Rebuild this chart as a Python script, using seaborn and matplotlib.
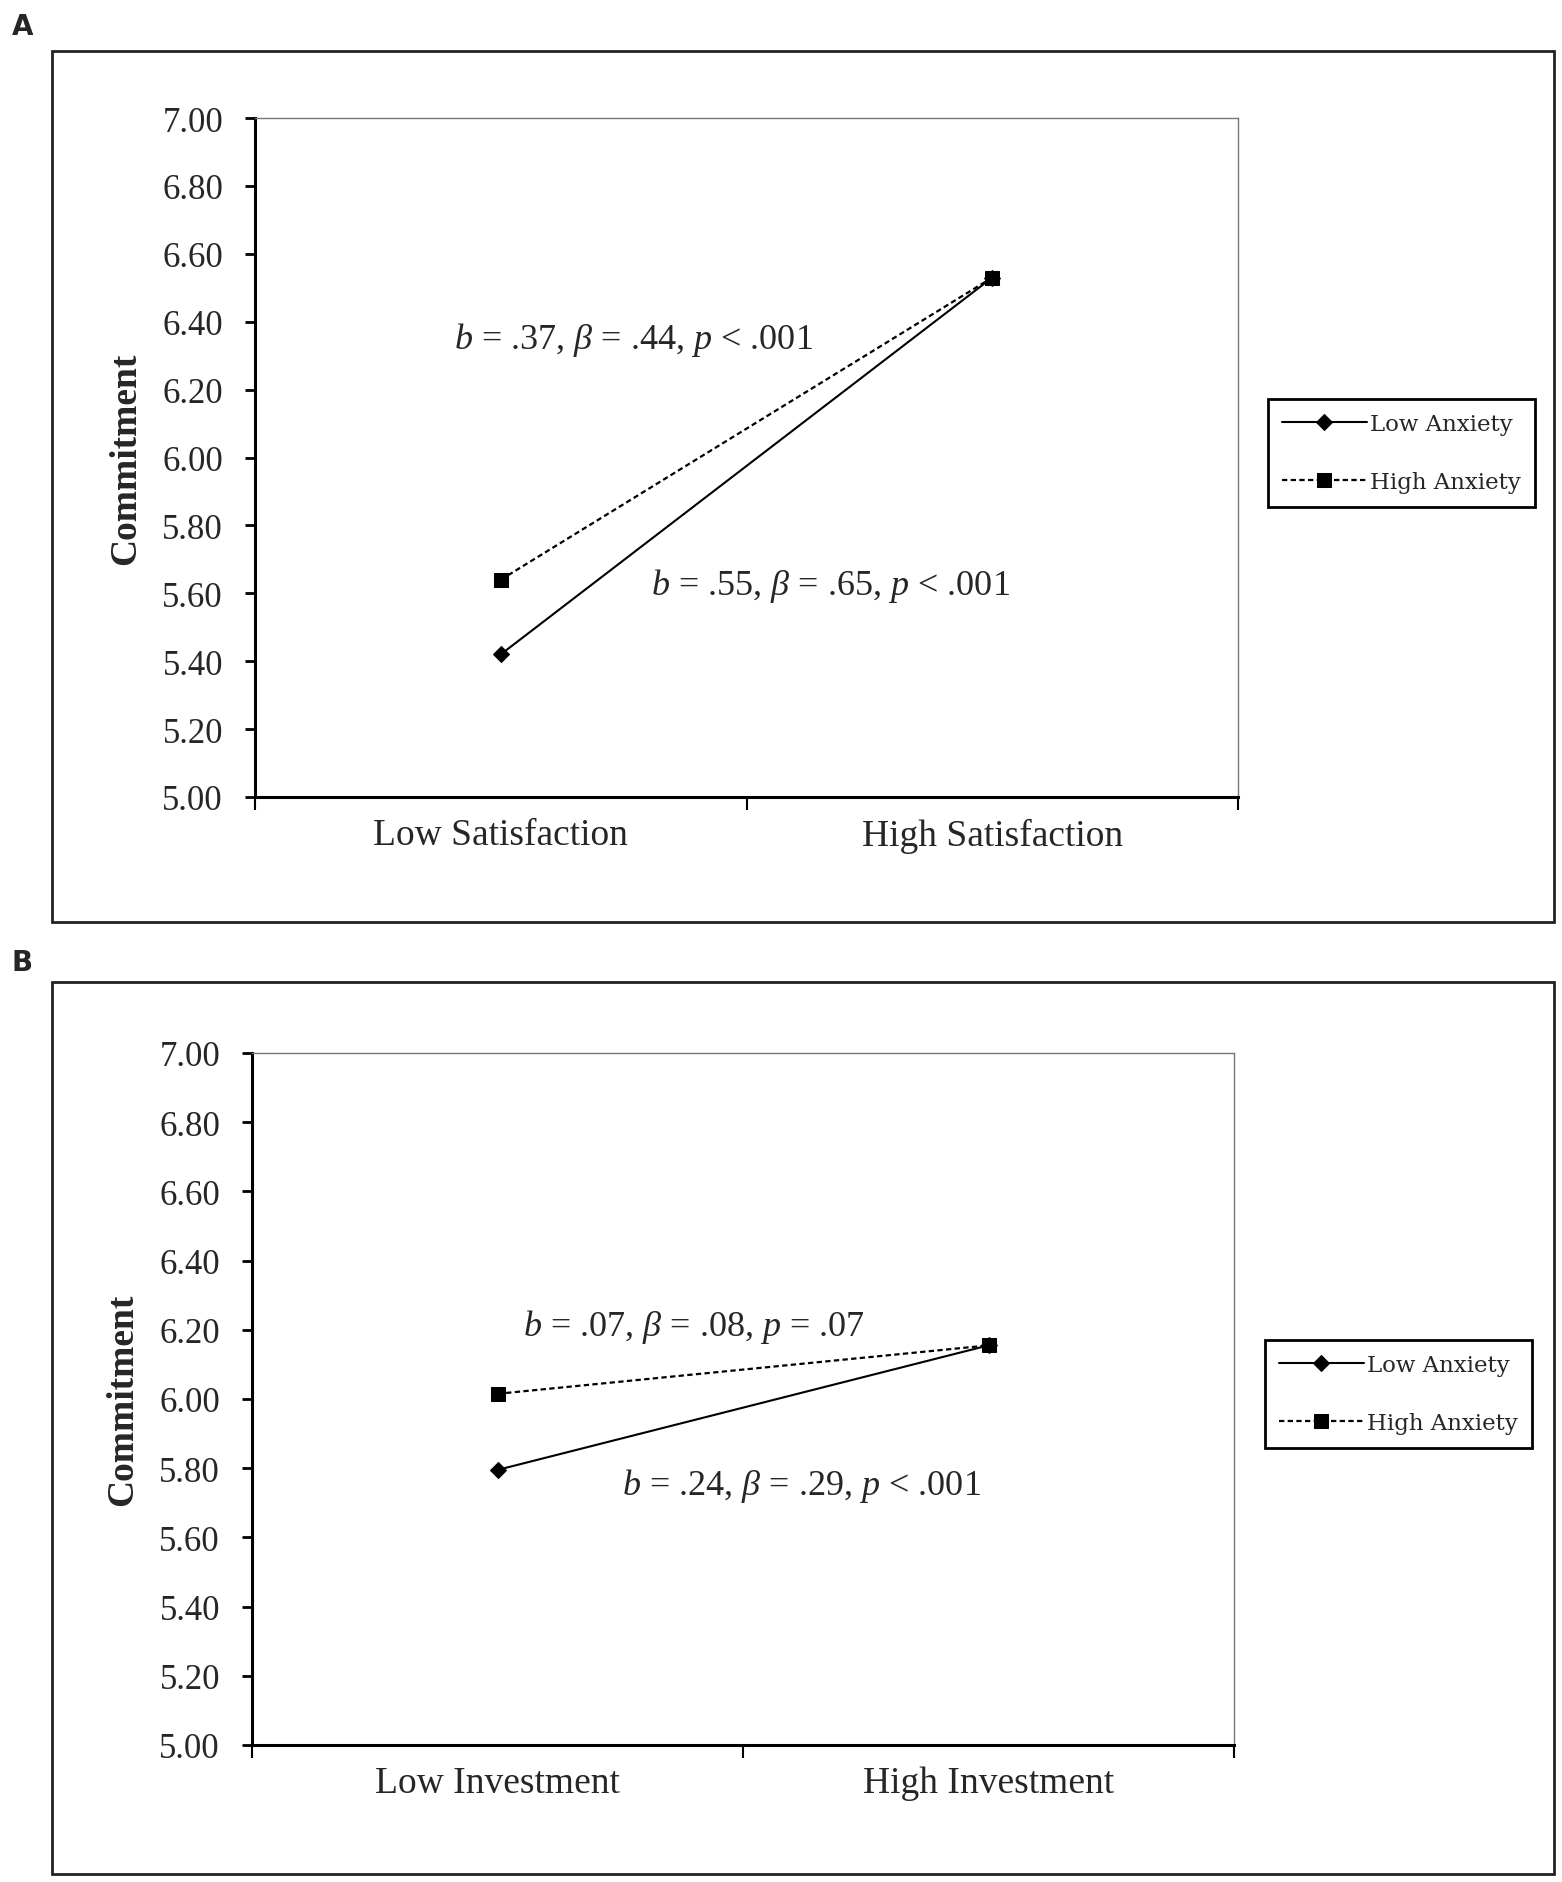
import matplotlib.pyplot as plt
import matplotlib.patches as mpatches
import pandas as pd
import seaborn as sns

sns.set_theme(style="white")
plt.rcParams['font.family'] = ['Liberation Serif', 'DejaVu Serif']
plt.rcParams['mathtext.fontset'] = 'custom'
plt.rcParams['mathtext.rm'] = 'Liberation Serif'
plt.rcParams['mathtext.it'] = 'Liberation Serif:italic'

# data
sat_levels = ['Low Satisfaction', 'High Satisfaction']
inv_levels = ['Low Investment', 'High Investment']
sat_low_anx = [5.42, 6.53]
sat_high_anx = [5.64, 6.53]
inv_low_anx = [5.795, 6.155]
inv_high_anx = [6.015, 6.155]

y_ticks = [5.00, 5.20, 5.40, 5.60, 5.80, 6.00, 6.20, 6.40, 6.60, 6.80, 7.00]

sat_notes = [(0.27, 6.35, r'$b$ = .37, $\beta$ = .44, $p$ < .001'),
             (0.67, 5.625, r'$b$ = .55, $\beta$ = .65, $p$ < .001')]
inv_notes = [(0.40, 6.21, r'$b$ = .07, $\beta$ = .08, $p$ = .07'),
             (0.62, 5.75, r'$b$ = .24, $\beta$ = .29, $p$ < .001')]

W, H = 1562, 1883
fig = plt.figure(figsize=(W / 100, H / 100), dpi=100)


def px_box(x0, y0, x1, y1):
    # pixel box -> figure fraction rect
    return [x0 / W, 1 - y1 / H, (x1 - x0) / W, (y1 - y0) / H]


def draw_panel(rect, levels, low_vals, high_vals, notes, legend_xy):
    ax = fig.add_axes(rect)
    df_low = pd.DataFrame({'level': levels, 'Commitment': low_vals})
    df_high = pd.DataFrame({'level': levels, 'Commitment': high_vals})
    sns.lineplot(data=df_low, x='level', y='Commitment', color='black', lw=1.5,
                 marker='D', markersize=8.5, markeredgecolor='black', sort=False,
                 label='Low Anxiety', ax=ax)
    sns.lineplot(data=df_high, x='level', y='Commitment', color='black', lw=1.6,
                 linestyle=(0, (2.4, 1.5)), marker='s', markersize=10.5,
                 markeredgecolor='black', sort=False, label='High Anxiety', ax=ax)

    ax.set_xlim(-0.5, 1.5)
    ax.set_ylim(5.0, 7.0)
    ax.set_yticks(y_ticks)
    ax.set_yticklabels([f'{v:.2f}' for v in y_ticks], fontsize=25)
    ax.set_xticks([0, 1])
    ax.set_xticklabels(levels, fontsize=27)
    ax.set_xticks([-0.5, 0.5, 1.5], minor=True)
    ax.tick_params(axis='x', which='major', length=0, pad=15)
    ax.tick_params(axis='x', which='minor', length=9, width=1.5, direction='out',
                   color='black', bottom=True)
    ax.tick_params(axis='y', length=7, width=2, direction='out', color='black',
                   left=True, pad=16)
    ax.set_xlabel('')
    ax.set_ylabel('Commitment', fontsize=27, fontweight='bold', labelpad=14)

    for s in ['left', 'bottom']:
        ax.spines[s].set_color('black')
        ax.spines[s].set_linewidth(2.2)
    for s in ['top', 'right']:
        ax.spines[s].set_color('#777777')
        ax.spines[s].set_linewidth(1.0)

    for x, y, txt in notes:
        ax.text(x, y, txt, fontsize=26, ha='center', va='center')

    handles, labels = ax.get_legend_handles_labels()
    leg = ax.legend(handles, labels, loc='upper left', bbox_to_anchor=legend_xy,
                    bbox_transform=fig.transFigure, frameon=True, fancybox=False,
                    edgecolor='black', framealpha=1, handlelength=3.7,
                    handletextpad=0.15, borderpad=0.6, labelspacing=1.6,
                    borderaxespad=0,
                    prop={'family': 'DejaVu Serif', 'size': 16.5})
    leg.get_frame().set_linewidth(2)
    return ax


draw_panel(px_box(255, 119, 1238, 798), sat_levels, sat_low_anx, sat_high_anx,
           sat_notes, (1268 / W, 1 - 400 / H))
draw_panel(px_box(252, 1054, 1234, 1746), inv_levels, inv_low_anx, inv_high_anx,
           inv_notes, (1265 / W, 1 - 1341 / H))

# outer panel frames
for x0, y0, x1, y1 in [(52, 52, 1554, 923), (52, 983, 1554, 1875)]:
    r = px_box(x0, y0, x1, y1)
    fig.patches.append(mpatches.Rectangle((r[0], r[1]), r[2], r[3], fill=False,
                                          edgecolor='#222222', lw=2,
                                          transform=fig.transFigure, figure=fig))

fig.text(12 / W, 1 - 27 / H, 'A', fontsize=20, fontweight='bold',
         family='DejaVu Sans', ha='left', va='center')
fig.text(12 / W, 1 - 963 / H, 'B', fontsize=20, fontweight='bold',
         family='DejaVu Sans', ha='left', va='center')

fig.savefig('out.png', dpi=100, facecolor='white')
